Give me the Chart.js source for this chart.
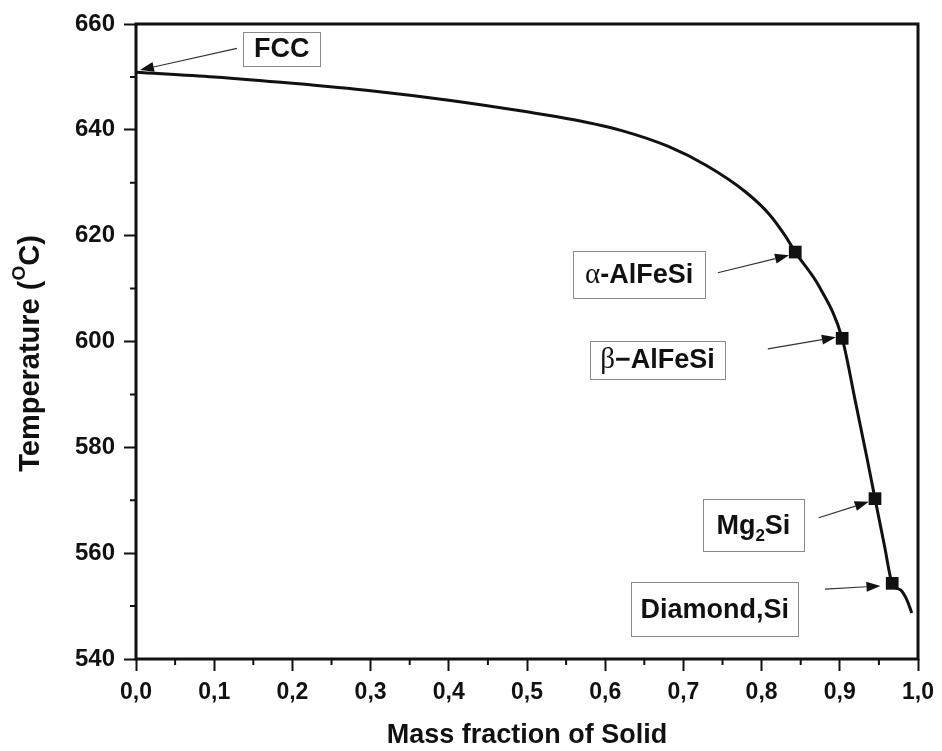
<!DOCTYPE html>
<html>
<head>
<meta charset="utf-8">
<title>Solidification curve</title>
<script src="https://cdn.jsdelivr.net/npm/chart.js@4.4.1/dist/chart.umd.min.js"></script>
<style>
html, body { margin: 0; padding: 0; background: #fff; }
</style>
</head>
<body>
<canvas id="myChart" width="942" height="751"></canvas>
<script>
// curve (mass fraction of solid, temperature in C)
var fraction = [0, 0.1, 0.2, 0.3, 0.4, 0.5, 0.56, 0.62, 0.68, 0.73, 0.78, 0.81, 0.83,
                0.843, 0.874, 0.903, 0.92, 0.935, 0.945, 0.957, 0.967, 0.978, 0.986, 0.992];
var temperature = [650.9, 650.0, 648.8, 647.4, 645.6, 643.4, 641.9, 639.9, 636.9, 633.2, 628.2, 624.0, 620.0,
                   616.9, 610.3, 600.6, 588.6, 577.8, 570.3, 561.5, 554.3, 553.0, 551.1, 548.7];

// phases that start forming on the way down
var phaseNames = ['FCC', 'α-AlFeSi', 'β−AlFeSi', 'Mg2Si', 'Diamond,Si'];
var phaseFraction = [0.843, 0.903, 0.945, 0.967];
var phaseTemp = [616.9, 600.6, 570.3, 554.3];

var xTickLabels = ['0,0', '0,1', '0,2', '0,3', '0,4', '0,5', '0,6', '0,7', '0,8', '0,9', '1,0'];
var yTickLabels = ['540', '560', '580', '600', '620', '640', '660'];

var boldFont = 'Liberation Sans, Arial, sans-serif';

// label boxes, in data units: [x1, x2, yTop, yBottom], arrow tail / head
var notes = [
    {parts: [[phaseNames[0], 'b']], box: [0.137, 0.236, 658.5, 652.1], from: [0.129, 655.4], to: [0.005, 651.3]},
    {parts: [['α', 'g'], ['-AlFeSi', 'b']], box: [0.559, 0.728, 617.1, 608.3], from: [0.744, 613.0], to: [0.835, 616.3]},
    {parts: [['β', 'g'], ['−AlFeSi', 'b']], box: [0.581, 0.753, 600.1, 593.0], from: [0.808, 598.6], to: [0.895, 600.8]},
    {parts: [['Mg', 'b'], ['2', 's'], ['Si', 'b']], box: [0.725, 0.854, 570.2, 560.4], from: [0.873, 566.7], to: [0.937, 569.7]},
    {parts: [[phaseNames[4], 'b']], box: [0.633, 0.847, 554.5, 544.3], from: [0.881, 553.2], to: [0.952, 553.8]}
];

function partFont(kind){
    if(kind == 'g') return '29px Liberation Serif, serif';
    if(kind == 's') return 'bold 17px ' + boldFont;
    return 'bold 27px ' + boldFont;
}

function drawArrow(ctx, x1, y1, x2, y2){
    var ang = Math.atan2(y2 - y1, x2 - x1);
    var len = 14, half = 5;
    ctx.strokeStyle = '#333';
    ctx.lineWidth = 1.2;
    ctx.beginPath();
    ctx.moveTo(x1, y1);
    ctx.lineTo(x2 - len * Math.cos(ang), y2 - len * Math.sin(ang));
    ctx.stroke();
    ctx.fillStyle = '#111';
    ctx.beginPath();
    ctx.moveTo(x2, y2);
    ctx.lineTo(x2 - len * Math.cos(ang) + half * Math.sin(ang), y2 - len * Math.sin(ang) - half * Math.cos(ang));
    ctx.lineTo(x2 - len * Math.cos(ang) - half * Math.sin(ang), y2 - len * Math.sin(ang) + half * Math.cos(ang));
    ctx.closePath();
    ctx.fill();
}

var decorPlugin = {
    id: 'decor',
    afterDraw: function(chart){
        var ctx = chart.ctx;
        var xs = chart.scales.x, ys = chart.scales.y;
        var a = chart.chartArea;
        ctx.save();

        // frame
        ctx.strokeStyle = '#111';
        ctx.lineWidth = 3;
        ctx.strokeRect(a.left, a.top, a.right - a.left, a.bottom - a.top);

        // minor ticks
        ctx.lineWidth = 2;
        ctx.beginPath();
        for(var v = 0.05; v < 1; v += 0.1){
            var px = xs.getPixelForValue(v);
            ctx.moveTo(px, a.bottom);
            ctx.lineTo(px, a.bottom + 6);
        }
        for(var t = 550; t < 660; t += 20){
            var py = ys.getPixelForValue(t);
            ctx.moveTo(a.left, py);
            ctx.lineTo(a.left - 6, py);
        }
        ctx.stroke();

        // label boxes + arrows
        notes.forEach(function(n){
            var bx1 = xs.getPixelForValue(n.box[0]), bx2 = xs.getPixelForValue(n.box[1]);
            var by1 = ys.getPixelForValue(n.box[2]), by2 = ys.getPixelForValue(n.box[3]);
            ctx.strokeStyle = '#8a8a8a';
            ctx.lineWidth = 1;
            ctx.strokeRect(Math.round(bx1) + 0.5, Math.round(by1) + 0.5, Math.round(bx2 - bx1), Math.round(by2 - by1));

            var total = 0;
            n.parts.forEach(function(p){
                ctx.font = partFont(p[1]);
                total += ctx.measureText(p[0]).width;
            });
            var cx = (bx1 + bx2) / 2 - total / 2;
            var cy = (by1 + by2) / 2 + 1;
            ctx.fillStyle = '#111';
            ctx.textAlign = 'left';
            ctx.textBaseline = 'middle';
            n.parts.forEach(function(p){
                ctx.font = partFont(p[1]);
                ctx.fillText(p[0], cx, p[1] == 's' ? cy + 10 : cy);
                cx += ctx.measureText(p[0]).width;
            });

            drawArrow(ctx, xs.getPixelForValue(n.from[0]), ys.getPixelForValue(n.from[1]),
                      xs.getPixelForValue(n.to[0]), ys.getPixelForValue(n.to[1]));
        });

        // y title with superscript O
        var midY = (a.top + a.bottom) / 2 + 12;
        ctx.translate(31, midY);
        ctx.rotate(-Math.PI / 2);
        var segs = [['Temperature (', 'bold 29px ' + boldFont, 0], ['O', 'bold 19px ' + boldFont, -11], ['C)', 'bold 29px ' + boldFont, 0]];
        var w = 0;
        segs.forEach(function(s){ ctx.font = s[1]; w += ctx.measureText(s[0]).width; });
        var sx = -w / 2;
        ctx.textBaseline = 'middle';
        ctx.fillStyle = '#111';
        segs.forEach(function(s){
            ctx.font = s[1];
            ctx.fillText(s[0], sx, s[2]);
            sx += ctx.measureText(s[0]).width;
        });
        ctx.restore();
    }
};

function makeChart(){
    var curve = [];
    for(var i = 0; i < fraction.length; i++){
        curve.push({x: fraction[i], y: temperature[i]});
    }
    var marks = [];
    for(var j = 0; j < phaseFraction.length; j++){
        marks.push({x: phaseFraction[j], y: phaseTemp[j]});
    }

    var ctx = document.getElementById('myChart').getContext('2d');
    var myChart = new Chart(ctx, {
        type: 'scatter',
        data: {
            datasets: [{
                label: 'Scheil curve',
                data: curve,
                showLine: true,
                borderColor: '#111',
                borderWidth: 3,
                pointRadius: 0,
                cubicInterpolationMode: 'monotone'
            }, {
                label: 'Phases',
                data: marks,
                showLine: false,
                pointStyle: 'rect',
                pointRadius: 9,
                backgroundColor: '#111',
                borderColor: '#111',
                borderWidth: 0
            }]
        },
        options: {
            responsive: false,
            animation: false,
            layout: {
                padding: {left: 0, right: 23, top: 24, bottom: 0}
            },
            plugins: {
                legend: {display: false},
                tooltip: {enabled: false}
            },
            scales: {
                x: {
                    type: 'linear',
                    min: 0,
                    max: 1,
                    afterFit: function(scale){ scale.height = 92; },
                    ticks: {
                        stepSize: 0.1,
                        padding: 8,
                        color: '#111',
                        font: {family: boldFont, size: 23, weight: 'bold'},
                        callback: function(v, i){ return xTickLabels[i]; }
                    },
                    grid: {drawOnChartArea: false, drawTicks: true, tickLength: 12, tickWidth: 2, tickColor: '#111'},
                    border: {display: false},
                    title: {
                        display: true,
                        text: 'Mass fraction of Solid',
                        color: '#111',
                        padding: {top: 0, bottom: -1},
                        font: {family: boldFont, size: 27, weight: 'bold'}
                    }
                },
                y: {
                    type: 'linear',
                    min: 540,
                    max: 660,
                    afterFit: function(scale){ scale.width = 136; },
                    ticks: {
                        stepSize: 20,
                        padding: 9,
                        color: '#111',
                        font: {family: boldFont, size: 24, weight: 'bold'},
                        callback: function(v, i){ return yTickLabels[i]; }
                    },
                    grid: {drawOnChartArea: false, drawTicks: true, tickLength: 12, tickWidth: 2, tickColor: '#111'},
                    border: {display: false}
                }
            }
        },
        plugins: [decorPlugin]
    });
}

makeChart();
</script>
</body>
</html>
